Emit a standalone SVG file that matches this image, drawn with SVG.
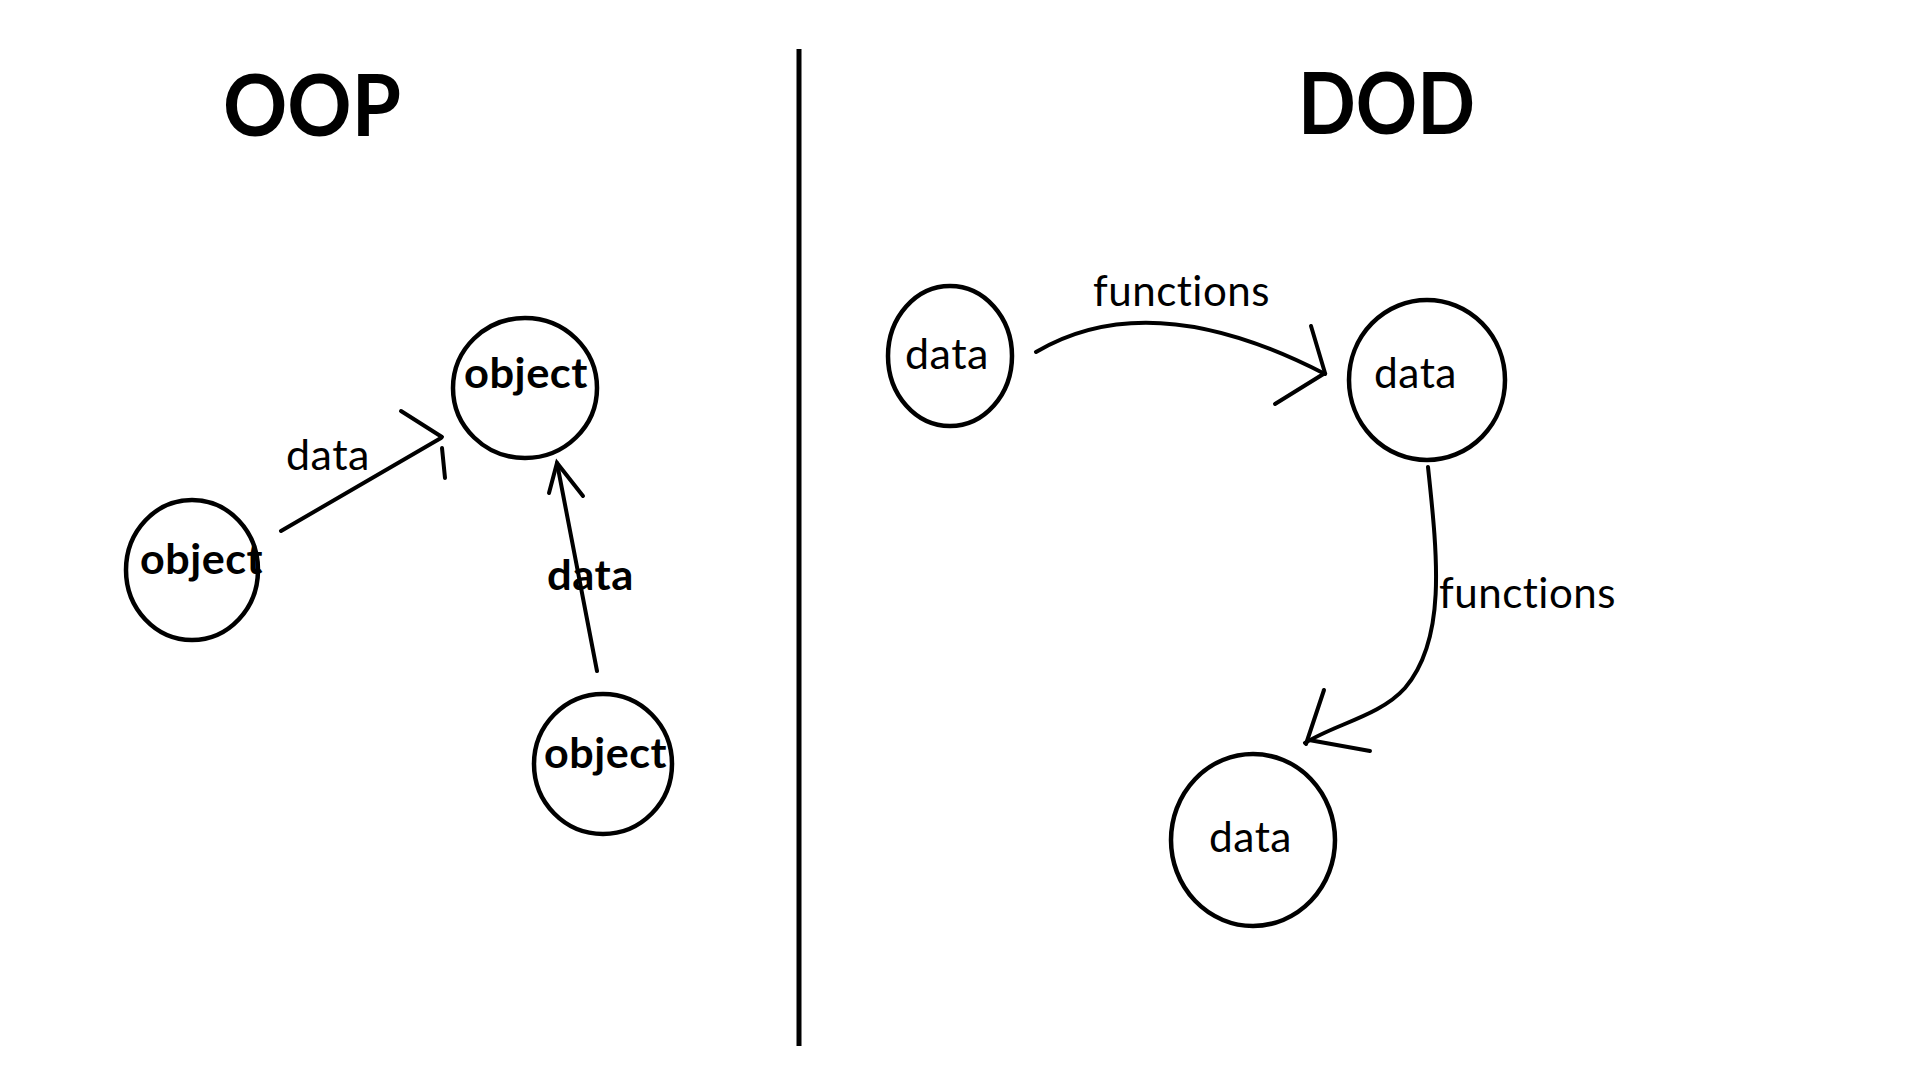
<svg xmlns="http://www.w3.org/2000/svg" width="1918" height="1078" viewBox="0 0 1918 1078">
<style>
.n{fill:none;stroke:#000;stroke-width:4.5}
.c{fill:none;stroke:#000;stroke-width:4;stroke-linecap:round}
.t{font-family:Lato,"Open Sans","Liberation Sans",sans-serif;font-size:42px;fill:#000;font-variant-ligatures:none;font-feature-settings:"liga" 0,"clig" 0,"dlig" 0;letter-spacing:0.5px}
.b{font-weight:bold}
.h{font-family:Lato,"Open Sans","Liberation Sans",sans-serif;font-size:86px;font-weight:bold;fill:#000}
</style>
<rect width="1918" height="1078" fill="#fff"/>
<line x1="799" y1="49" x2="799" y2="1046" stroke="#000" stroke-width="5"/>
<text class="h" x="223" y="136" textLength="178" lengthAdjust="spacingAndGlyphs">OOP</text>
<text class="h" x="1298" y="134" textLength="177" lengthAdjust="spacingAndGlyphs">DOD</text>
<g id="connectors">
<path class="c" d="M281,531 L441,438"/>
<path class="c" d="M401,411 L442,437"/>
<path class="c" d="M442,448 L445,478" stroke-width="3"/>
<path class="c" d="M597,671 L557,463"/>
<path class="c" d="M549,493 L557,463 L583,496"/>
<path class="c" d="M1036,352 Q1151,284 1325,374" stroke-width="5"/>
<path class="c" d="M1311,326 L1325,373 L1275,404"/>
<path class="c" d="M1428,467 C1438,560 1446,640 1405,688 C1380,716 1335,724 1305,743" stroke-width="5"/>
<path class="c" d="M1324,690 L1306,744"/>
<path class="c" d="M1309,740 L1370,751" stroke-width="5"/>
<text class="t" x="286" y="470" textLength="84" lengthAdjust="spacingAndGlyphs">data</text>
<text class="t b" x="547" y="590" textLength="87" lengthAdjust="spacingAndGlyphs">data</text>
<text class="t" x="1093" y="306" textLength="177" lengthAdjust="spacingAndGlyphs">functions</text>
<text class="t" x="1439" y="608" textLength="177" lengthAdjust="spacingAndGlyphs">functions</text>
</g>
<g id="obj-left">
<ellipse class="n" cx="192" cy="570" rx="66" ry="70"/>
<text class="t b" x="140" y="574" textLength="123" lengthAdjust="spacingAndGlyphs">object</text>
</g>
<g id="obj-top">
<ellipse class="n" cx="525" cy="388" rx="72" ry="70"/>
<text class="t b" x="464" y="388" textLength="124" lengthAdjust="spacingAndGlyphs">object</text>
</g>
<g id="obj-bottom">
<ellipse class="n" cx="603" cy="764" rx="69" ry="70"/>
<text class="t b" x="544" y="768" textLength="123" lengthAdjust="spacingAndGlyphs">object</text>
</g>
<g id="data-left">
<ellipse class="n" cx="950" cy="356" rx="62" ry="70"/>
<text class="t" x="905" y="369" textLength="84" lengthAdjust="spacingAndGlyphs">data</text>
</g>
<g id="data-right">
<ellipse class="n" cx="1427" cy="380" rx="78" ry="80"/>
<text class="t" x="1374" y="388" textLength="83" lengthAdjust="spacingAndGlyphs">data</text>
</g>
<g id="data-bottom">
<ellipse class="n" cx="1253" cy="840" rx="82" ry="86"/>
<text class="t" x="1209" y="852" textLength="83" lengthAdjust="spacingAndGlyphs">data</text>
</g>
</svg>
